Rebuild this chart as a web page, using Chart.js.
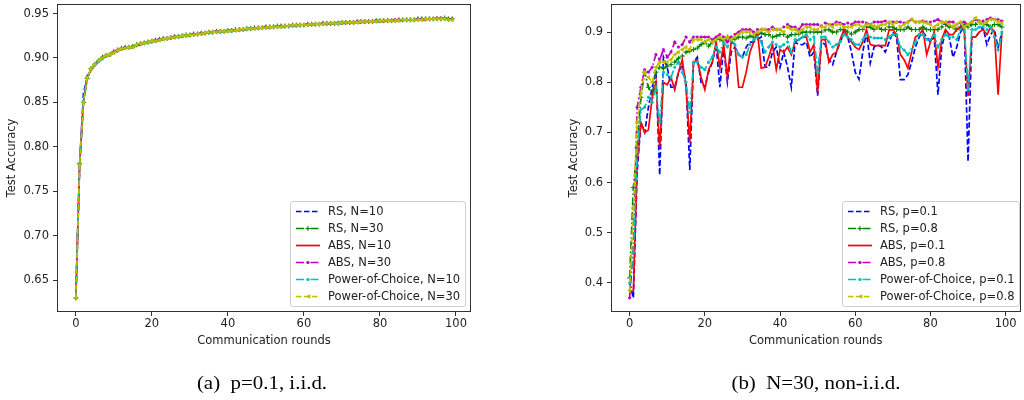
<!DOCTYPE html>
<html><head><meta charset="utf-8">
<script src="https://cdn.jsdelivr.net/npm/chart.js@4.4.1/dist/chart.umd.min.js"></script>
<style>
html,body{margin:0;padding:0;background:#fff;width:1024px;height:400px;overflow:hidden;position:relative;font-family:"DejaVu Sans",sans-serif;}
canvas.main{position:absolute;top:0;}
.legend{position:absolute;background:rgba(255,255,255,0.85);border:1px solid #d0d0d0;border-radius:3px;box-sizing:border-box;}
.legend .row{position:absolute;left:0;height:17px;font-size:11.5px;color:#222;white-space:nowrap;}
.legend .row canvas{position:absolute;left:4px;top:3px;}
.legend .row span{position:absolute;left:37px;top:1px;line-height:15px;}
.caption{position:absolute;font-family:"Liberation Serif",serif;font-size:19px;color:#000;transform:translateX(-50%) scaleX(1.1);white-space:nowrap;top:372px;}
</style></head>
<body>
<canvas id="cA" class="main" width="512" height="400" style="left:0"></canvas>
<canvas id="cB" class="main" width="512" height="400" style="left:512px"></canvas>
<div id="legA" class="legend" style="left:290px;top:201px;width:176px;height:106px"></div>
<div id="legB" class="legend" style="left:842px;top:201px;width:178px;height:106px"></div>
<div class="caption" style="left:262px">(a)&nbsp;&nbsp;p=0.1, i.i.d.</div>
<div class="caption" style="left:816px">(b)&nbsp;&nbsp;N=30, non-i.i.d.</div>
<script>
// ---------- data ----------
const rounds = Array.from({length:100},(_, i)=>i);
const xTicks = [0,20,40,60,80,100];
const xTickLabels = ['0','20','40','60','80','100'];
const yTicksA = [0.65,0.70,0.75,0.80,0.85,0.90,0.95];
const yTickLabelsA = ['0.65','0.70','0.75','0.80','0.85','0.90','0.95'];
const yTicksB = [0.4,0.5,0.6,0.7,0.8,0.9];
const yTickLabelsB = ['0.4','0.5','0.6','0.7','0.8','0.9'];
const namesA = ['RS, N=10','RS, N=30','ABS, N=10','ABS, N=30','Power-of-Choice, N=10','Power-of-Choice, N=30'];
const namesB = ['RS, p=0.1','RS, p=0.8','ABS, p=0.1','ABS, p=0.8','Power-of-Choice, p=0.1','Power-of-Choice, p=0.8'];
const xLabel = 'Communication rounds';
const yLabel = 'Test Accuracy';

// (a) p=0.1, i.i.d.
const rsN10 = [0.630,0.780,0.860,0.878,0.887,0.892,0.896,0.900,0.902,0.904,
0.906,0.909,0.910,0.911,0.912,0.912,0.914,0.916,0.917,0.918,
0.919,0.919,0.920,0.921,0.922,0.923,0.923,0.924,0.925,0.925,
0.926,0.926,0.927,0.927,0.928,0.928,0.929,0.929,0.930,0.930,
0.930,0.931,0.931,0.932,0.932,0.933,0.933,0.933,0.934,0.934,
0.934,0.935,0.935,0.935,0.935,0.936,0.936,0.936,0.937,0.937,
0.937,0.937,0.938,0.938,0.938,0.938,0.939,0.939,0.939,0.939,
0.939,0.940,0.940,0.940,0.940,0.940,0.941,0.941,0.941,0.941,
0.941,0.942,0.942,0.942,0.942,0.942,0.943,0.943,0.943,0.943,
0.943,0.943,0.944,0.944,0.944,0.944,0.945,0.944,0.944,0.944];
const rsN30 = [0.630,0.781,0.850,0.877,0.888,0.893,0.897,0.901,0.903,0.904,
0.907,0.909,0.911,0.912,0.912,0.913,0.915,0.916,0.917,0.918,
0.919,0.920,0.921,0.922,0.922,0.923,0.924,0.924,0.925,0.926,
0.926,0.927,0.927,0.928,0.928,0.929,0.929,0.930,0.930,0.930,
0.931,0.931,0.932,0.932,0.932,0.933,0.933,0.934,0.934,0.934,
0.935,0.935,0.935,0.936,0.936,0.936,0.936,0.937,0.937,0.937,
0.937,0.938,0.938,0.938,0.938,0.939,0.939,0.939,0.939,0.939,
0.940,0.940,0.940,0.940,0.941,0.941,0.941,0.941,0.941,0.942,
0.942,0.942,0.942,0.942,0.942,0.943,0.943,0.943,0.943,0.943,
0.944,0.944,0.944,0.944,0.944,0.944,0.944,0.945,0.944,0.944];
const absN10 = [0.630,0.779,0.851,0.878,0.887,0.892,0.896,0.900,0.902,0.903,
0.906,0.908,0.910,0.911,0.911,0.912,0.914,0.915,0.917,0.918,
0.918,0.919,0.920,0.921,0.922,0.922,0.923,0.924,0.924,0.925,
0.926,0.926,0.927,0.927,0.928,0.928,0.929,0.929,0.929,0.930,
0.930,0.931,0.931,0.931,0.932,0.932,0.933,0.933,0.934,0.934,
0.934,0.934,0.935,0.935,0.935,0.936,0.936,0.936,0.936,0.937,
0.937,0.937,0.937,0.938,0.938,0.938,0.938,0.939,0.939,0.939,
0.939,0.939,0.940,0.940,0.940,0.940,0.941,0.941,0.941,0.941,
0.941,0.941,0.942,0.942,0.942,0.942,0.942,0.943,0.943,0.943,
0.943,0.943,0.943,0.944,0.944,0.944,0.944,0.944,0.944,0.943];
const absN30 = [0.630,0.780,0.850,0.879,0.888,0.893,0.897,0.900,0.903,0.904,
0.907,0.909,0.910,0.912,0.912,0.913,0.914,0.916,0.917,0.918,
0.919,0.920,0.921,0.921,0.922,0.923,0.924,0.924,0.925,0.925,
0.926,0.927,0.927,0.928,0.928,0.929,0.929,0.930,0.930,0.930,
0.931,0.931,0.931,0.932,0.932,0.933,0.933,0.933,0.934,0.934,
0.935,0.935,0.935,0.935,0.936,0.936,0.936,0.937,0.937,0.937,
0.937,0.938,0.938,0.938,0.938,0.939,0.939,0.939,0.939,0.940,
0.940,0.940,0.940,0.940,0.941,0.941,0.941,0.941,0.941,0.942,
0.942,0.942,0.942,0.942,0.943,0.943,0.943,0.943,0.943,0.943,
0.944,0.944,0.944,0.944,0.944,0.945,0.945,0.944,0.944,0.944];
const pocN10 = [0.630,0.779,0.851,0.877,0.887,0.892,0.896,0.899,0.902,0.904,
0.906,0.908,0.910,0.911,0.912,0.912,0.914,0.916,0.917,0.917,
0.918,0.919,0.920,0.921,0.922,0.922,0.923,0.924,0.924,0.925,
0.925,0.926,0.927,0.927,0.928,0.928,0.929,0.929,0.929,0.930,
0.930,0.930,0.931,0.931,0.932,0.932,0.933,0.933,0.933,0.934,
0.934,0.934,0.935,0.935,0.935,0.935,0.936,0.936,0.936,0.937,
0.937,0.937,0.937,0.938,0.938,0.938,0.938,0.939,0.939,0.939,
0.939,0.940,0.940,0.940,0.940,0.940,0.940,0.941,0.941,0.941,
0.941,0.942,0.942,0.942,0.942,0.942,0.942,0.943,0.943,0.943,
0.943,0.943,0.944,0.944,0.944,0.944,0.944,0.944,0.943,0.943];
const pocN30 = [0.630,0.780,0.850,0.878,0.888,0.893,0.897,0.900,0.903,0.904,
0.906,0.909,0.910,0.911,0.912,0.912,0.915,0.916,0.917,0.918,
0.919,0.919,0.920,0.921,0.922,0.923,0.923,0.924,0.925,0.925,
0.926,0.926,0.927,0.927,0.928,0.929,0.929,0.929,0.930,0.930,
0.930,0.931,0.931,0.932,0.932,0.933,0.933,0.933,0.934,0.934,
0.934,0.935,0.935,0.935,0.935,0.936,0.936,0.937,0.937,0.937,
0.937,0.937,0.938,0.938,0.938,0.938,0.939,0.939,0.939,0.939,
0.940,0.940,0.940,0.940,0.940,0.941,0.941,0.941,0.941,0.941,
0.942,0.942,0.942,0.942,0.942,0.942,0.943,0.943,0.943,0.943,
0.943,0.943,0.944,0.944,0.944,0.944,0.944,0.944,0.943,0.943];

// (b) N=30, non-i.i.d.
const rsP01 = [0.400,0.370,0.620,0.720,0.700,0.750,0.790,0.820,0.615,0.850,
0.830,0.790,0.790,0.820,0.835,0.800,0.625,0.840,0.850,0.800,
0.790,0.820,0.840,0.875,0.790,0.870,0.800,0.860,0.870,0.855,
0.850,0.870,0.880,0.880,0.885,0.890,0.830,0.830,0.860,0.870,
0.830,0.860,0.830,0.790,0.880,0.875,0.875,0.880,0.850,0.860,
0.773,0.880,0.875,0.845,0.835,0.860,0.880,0.898,0.890,0.860,
0.820,0.806,0.860,0.900,0.838,0.870,0.875,0.870,0.860,0.880,
0.900,0.890,0.805,0.805,0.815,0.840,0.870,0.890,0.900,0.890,
0.880,0.890,0.775,0.870,0.900,0.890,0.850,0.870,0.900,0.910,
0.642,0.890,0.890,0.900,0.910,0.875,0.895,0.905,0.868,0.900];
const rsP08 = [0.410,0.590,0.670,0.770,0.820,0.790,0.775,0.820,0.830,0.828,
0.832,0.835,0.840,0.848,0.852,0.860,0.862,0.865,0.868,0.875,
0.880,0.872,0.880,0.886,0.885,0.882,0.890,0.886,0.886,0.890,
0.890,0.888,0.892,0.890,0.895,0.898,0.895,0.895,0.890,0.892,
0.895,0.895,0.890,0.895,0.895,0.896,0.900,0.900,0.900,0.900,
0.900,0.900,0.904,0.905,0.900,0.900,0.905,0.905,0.900,0.896,
0.900,0.905,0.905,0.910,0.910,0.905,0.910,0.905,0.905,0.910,
0.910,0.905,0.905,0.905,0.910,0.905,0.905,0.905,0.910,0.905,
0.905,0.905,0.905,0.910,0.915,0.910,0.910,0.905,0.910,0.915,
0.910,0.915,0.915,0.920,0.915,0.915,0.910,0.915,0.915,0.910];
const absP01 = [0.385,0.383,0.640,0.720,0.700,0.705,0.770,0.800,0.670,0.800,
0.795,0.810,0.785,0.820,0.845,0.790,0.680,0.840,0.845,0.810,
0.785,0.825,0.840,0.880,0.830,0.875,0.810,0.880,0.875,0.790,
0.790,0.820,0.860,0.880,0.900,0.828,0.830,0.850,0.875,0.825,
0.865,0.860,0.870,0.855,0.880,0.885,0.890,0.890,0.860,0.875,
0.780,0.885,0.885,0.840,0.855,0.860,0.885,0.905,0.890,0.880,
0.870,0.865,0.880,0.905,0.875,0.873,0.873,0.873,0.873,0.904,
0.905,0.895,0.855,0.845,0.828,0.860,0.890,0.895,0.905,0.855,
0.880,0.900,0.830,0.885,0.905,0.895,0.895,0.905,0.910,0.905,
0.772,0.890,0.890,0.900,0.905,0.895,0.910,0.900,0.775,0.900];
const absP08 = [0.370,0.470,0.750,0.790,0.825,0.820,0.830,0.855,0.845,0.865,
0.850,0.860,0.880,0.870,0.875,0.890,0.880,0.890,0.890,0.890,
0.890,0.890,0.885,0.890,0.895,0.890,0.880,0.890,0.895,0.900,
0.905,0.905,0.905,0.900,0.905,0.905,0.905,0.905,0.910,0.905,
0.905,0.910,0.915,0.910,0.910,0.905,0.915,0.915,0.915,0.915,
0.915,0.912,0.918,0.915,0.915,0.920,0.918,0.915,0.918,0.915,
0.920,0.920,0.920,0.918,0.915,0.920,0.920,0.920,0.922,0.918,
0.920,0.920,0.920,0.918,0.920,0.925,0.920,0.920,0.922,0.920,
0.920,0.922,0.925,0.920,0.918,0.920,0.920,0.915,0.918,0.920,
0.915,0.920,0.925,0.922,0.922,0.925,0.928,0.925,0.925,0.922];
const pocP01 = [0.400,0.460,0.660,0.745,0.750,0.770,0.760,0.790,0.720,0.820,
0.815,0.810,0.830,0.840,0.820,0.800,0.740,0.840,0.840,0.830,
0.825,0.840,0.850,0.870,0.860,0.880,0.870,0.885,0.875,0.855,
0.850,0.855,0.875,0.885,0.890,0.880,0.860,0.870,0.880,0.875,
0.870,0.875,0.880,0.860,0.885,0.885,0.890,0.895,0.885,0.890,
0.820,0.890,0.890,0.880,0.870,0.875,0.880,0.895,0.890,0.885,
0.875,0.875,0.885,0.895,0.890,0.888,0.888,0.888,0.885,0.890,
0.895,0.895,0.870,0.864,0.855,0.865,0.880,0.895,0.895,0.885,
0.885,0.895,0.870,0.885,0.895,0.890,0.890,0.885,0.905,0.910,
0.785,0.905,0.905,0.910,0.910,0.905,0.910,0.890,0.865,0.900];
const pocP08 = [0.385,0.550,0.720,0.780,0.820,0.810,0.800,0.830,0.840,0.840,
0.840,0.845,0.855,0.860,0.865,0.870,0.865,0.885,0.885,0.885,
0.880,0.885,0.880,0.885,0.890,0.885,0.890,0.885,0.890,0.895,
0.900,0.900,0.900,0.895,0.900,0.905,0.905,0.900,0.905,0.905,
0.905,0.900,0.910,0.905,0.905,0.900,0.905,0.910,0.910,0.905,
0.905,0.910,0.910,0.915,0.910,0.915,0.915,0.910,0.910,0.910,
0.915,0.915,0.910,0.915,0.915,0.912,0.910,0.915,0.915,0.920,
0.915,0.920,0.910,0.915,0.920,0.925,0.920,0.920,0.920,0.918,
0.915,0.910,0.915,0.920,0.920,0.915,0.910,0.915,0.920,0.910,
0.915,0.920,0.928,0.920,0.915,0.920,0.925,0.925,0.920,0.918];

const seriesA = [rsN10, rsN30, absN10, absN30, pocN10, pocN30];
const seriesB = [rsP01, rsP08, absP01, absP08, pocP01, pocP08];

// ---------- styles ----------
const LW = 1.7;
const DASH = [5.5, 2.5];
const DASHDOT = [8, 2.5, 1.5, 2.5];
const styles = [
  {color:'#0000ff', dash:DASH,    marker:null},
  {color:'#008000', dash:DASHDOT, marker:'cross', r:2.5},
  {color:'#ff0000', dash:[],      marker:null},
  {color:'#bf00bf', dash:DASHDOT, marker:'circle', r:1.3},
  {color:'#00bfbf', dash:DASHDOT, marker:'circle', r:1.3},
  {color:'#bfbf00', dash:DASH,    marker:'triangle', r:2.3}
];

function buildDatasets(series, names){
  return series.map((arr, i) => {
    const s = styles[i];
    return {
      label: names[i],
      data: rounds.map((x, k) => ({x: x, y: arr[k]})),
      borderColor: s.color,
      backgroundColor: s.color,
      borderWidth: LW,
      borderDash: s.dash,
      tension: 0,
      fill: false,
      order: series.length - i,
      pointRadius: s.marker ? s.r : 0,
      pointStyle: s.marker || 'circle',
      pointRotation: s.marker === 'triangle' ? -90 : 0,
      pointBackgroundColor: s.color,
      pointBorderColor: s.color,
      pointBorderWidth: s.marker === 'cross' ? 1 : 0.5,
      pointHoverRadius: 0
    };
  });
}

function ext(series){
  let mn = Infinity, mx = -Infinity;
  series.forEach(a => a.forEach(v => { if (v < mn) mn = v; if (v > mx) mx = v; }));
  const p = (mx - mn) * 0.05;
  return [mn - p, mx + p];
}
const xr = [rounds[0] - (rounds[rounds.length-1]-rounds[0])*0.05, rounds[rounds.length-1] + (rounds[rounds.length-1]-rounds[0])*0.05];

const framePlugin = {
  id: 'frame',
  afterDraw(chart){
    const a = chart.chartArea, ctx = chart.ctx;
    ctx.save();
    ctx.strokeStyle = '#333';
    ctx.lineWidth = 1;
    ctx.strokeRect(Math.round(a.left) + 0.5, Math.round(a.top) + 0.5, Math.round(a.right) - Math.round(a.left) - 1, Math.round(a.bottom) - Math.round(a.top) - 1);
    ctx.restore();
  }
};

const FONT = {family: '"DejaVu Sans", sans-serif', size: 11.5};

function makeChart(id, series, names, yTicks, yLabels, padLeft, yWidth, padRight){
  const yr = ext(series);
  return new Chart(document.getElementById(id), {
    type: 'line',
    data: {datasets: buildDatasets(series, names)},
    options: {
      responsive: false,
      animation: false,
      devicePixelRatio: 1,
      events: [],
      layout: {padding: {left: padLeft, top: 4, right: padRight, bottom: 52}},
      plugins: {legend: {display: false}, tooltip: {enabled: false}},
      scales: {
        x: {
          type: 'linear', min: xr[0], max: xr[1],
          afterBuildTicks: s => { s.ticks = xTicks.map(v => ({value: v})); },
          afterFit: s => { s.height = 36; s.paddingLeft = 0; s.paddingRight = 0; },
          ticks: {font: FONT, color: '#222', padding: 1, maxRotation: 0, autoSkip: false,
                  callback: v => xTickLabels[xTicks.indexOf(v)]},
          grid: {display: true, drawOnChartArea: false, drawTicks: true, tickLength: 4, color: '#333', lineWidth: 1},
          border: {display: false},
          title: {display: true, text: xLabel, font: FONT, color: '#222', padding: {top: 0, bottom: 0}}
        },
        y: {
          type: 'linear', min: yr[0], max: yr[1],
          afterBuildTicks: s => { s.ticks = yTicks.map(v => ({value: v})); },
          afterFit: s => { s.width = yWidth; s.paddingTop = 0; s.paddingBottom = 0; },
          ticks: {font: FONT, color: '#222', padding: 4, autoSkip: false,
                  callback: v => yLabels[yTicks.indexOf(v)]},
          grid: {display: true, drawOnChartArea: false, drawTicks: true, tickLength: 4, color: '#333', lineWidth: 1},
          border: {display: false},
          title: {display: true, text: yLabel, font: FONT, color: '#222', padding: {top: 5, bottom: 0}}
        }
      }
    },
    plugins: [framePlugin]
  });
}

makeChart('cA', seriesA, namesA, yTicksA, yTickLabelsA, 0, 57, 41);
makeChart('cB', seriesB, namesB, yTicksB, yTickLabelsB, 50, 49, 1);

// ---------- legends (HTML) ----------
function drawMarker(ctx, s, x, y){
  ctx.fillStyle = s.color; ctx.strokeStyle = s.color; ctx.setLineDash([]);
  if (s.marker === 'cross'){
    ctx.lineWidth = 1; ctx.beginPath();
    ctx.moveTo(x - s.r, y); ctx.lineTo(x + s.r, y); ctx.moveTo(x, y - s.r); ctx.lineTo(x, y + s.r); ctx.stroke();
  } else if (s.marker === 'circle'){
    ctx.beginPath(); ctx.arc(x, y, s.r + 0.3, 0, Math.PI * 2); ctx.fill();
  } else if (s.marker === 'triangle'){
    ctx.beginPath(); ctx.moveTo(x - s.r, y); ctx.lineTo(x + s.r, y - s.r); ctx.lineTo(x + s.r, y + s.r); ctx.closePath(); ctx.fill();
  }
}
function buildLegend(id, names){
  const box = document.getElementById(id);
  names.forEach((n, i) => {
    const row = document.createElement('div');
    row.className = 'row';
    row.style.top = (1 + 17 * i) + 'px';
    const c = document.createElement('canvas');
    c.width = 26; c.height = 11;
    const ctx = c.getContext('2d');
    const s = styles[i];
    ctx.strokeStyle = s.color; ctx.lineWidth = LW; ctx.setLineDash(s.dash);
    ctx.beginPath(); ctx.moveTo(1, 5.5); ctx.lineTo(25, 5.5); ctx.stroke();
    if (s.marker) drawMarker(ctx, s, 13, 5.5);
    const sp = document.createElement('span');
    sp.textContent = n;
    row.appendChild(c); row.appendChild(sp);
    box.appendChild(row);
  });
}
buildLegend('legA', namesA);
buildLegend('legB', namesB);
</script>
</body></html>
